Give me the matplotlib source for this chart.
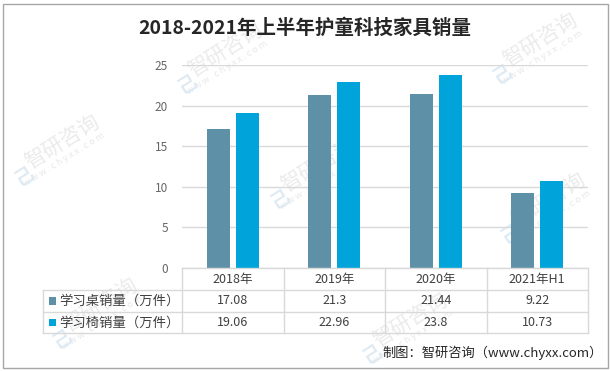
import numpy as np
import matplotlib
matplotlib.use("Agg")
import matplotlib.pyplot as plt
import matplotlib.transforms as mtransforms
from matplotlib.patches import Rectangle

plt.rcParams['font.family'] = ['Noto Sans CJK SC', 'DejaVu Sans']

# ---------------- data ----------------
title = "2018-2021年上半年护童科技家具销量"
categories = ["2018年", "2019年", "2020年", "2021年H1"]
series_names = ["学习桌销量（万件）", "学习椅销量（万件）"]
desk_sales = [17.08, 21.3, 21.44, 9.22]
chair_sales = [19.06, 22.96, 23.8, 10.73]
yticks = [0, 5, 10, 15, 20, 25]
footer = "制图：智研咨询（www.chyxx.com）"
wm_text = "智研咨询"
wm_sub = "w w w . c h y x x . c o m"

# ---------------- style ----------------
W, H = 610, 371
c_desk = "#5E91A7"
c_chair = "#00A4DB"
grid_c = "#D9D9D9"
txt_c = "#404040"

fig = plt.figure(figsize=(W / 100, H / 100), dpi=100)
fig.patch.set_facecolor("white")

# background layer (watermarks)
bg = fig.add_axes([0, 0, 1, 1], zorder=0)
bg.set_xlim(0, W)
bg.set_ylim(H, 0)
bg.axis("off")

theta = 32
th = np.deg2rad(theta)
wm_pos = [(225, 50), (62, 142), (540, 40), (318, 165), (548, 200), (100, 305), (410, 320)]
for (cx, cy) in wm_pos:
    bg.text(cx, cy, wm_text, rotation=theta, rotation_mode="anchor",
            ha="center", va="center", fontsize=15, color="#EBEBEB")
    ox, oy = 16 * np.sin(th), 16 * np.cos(th)
    bg.text(cx + ox - 6, cy + oy + 4, wm_sub, rotation=theta, rotation_mode="anchor",
            ha="center", va="center", fontsize=6.5, color="#E8E8E8")
    lx, ly = cx - 52 * np.cos(th) + 6, cy + 52 * np.sin(th) + 6
    bg.text(lx, ly, "己", rotation=theta, rotation_mode="anchor",
            ha="center", va="center", fontsize=13, color="#DDEAF4", fontweight="bold")

# main chart axes
x0, x1, y_bot, y_top = 182, 588, 268, 65
ax = fig.add_axes([x0 / W, (H - y_bot) / H, (x1 - x0) / W, (y_bot - y_top) / H], zorder=1)
ax.patch.set_alpha(0)
x = np.arange(len(categories))
bw = 0.227
off = 0.142
ax.bar(x - off, desk_sales, bw, color=c_desk, zorder=3)
ax.bar(x + off, chair_sales, bw, color=c_chair, zorder=3)
ax.set_xlim(-0.5, len(categories) - 0.5)
ax.set_ylim(yticks[0], yticks[-1])
ax.set_yticks(yticks)
ax.set_xticks([])
ax.yaxis.grid(True, color=grid_c, lw=1)
ax.set_axisbelow(True)
for s in ax.spines.values():
    s.set_visible(False)
ax.tick_params(axis="y", length=0, pad=10, labelsize=8.5, labelcolor="#666666")

# overlay layer (table, title, footer, border)
ov = fig.add_axes([0, 0, 1, 1], zorder=2)
ov.patch.set_alpha(0)
ov.set_xlim(0, W)
ov.set_ylim(H, 0)
ov.axis("off")

tr = mtransforms.blended_transform_factory(ax.transData, ov.transData)
row_y = [268, 290, 312, 333]
tab_left = 43
lw = 1

# horizontal lines
ov.plot([-0.5, len(categories) - 0.5], [row_y[0], row_y[0]], color=grid_c, lw=lw, transform=tr)
for yy in row_y[1:]:
    ov.plot([tab_left, x1], [yy, yy], color=grid_c, lw=lw)
# vertical lines
for i in range(len(categories) + 1):
    ov.plot([i - 0.5, i - 0.5], [row_y[0], row_y[-1]], color=grid_c, lw=lw, transform=tr)
ov.plot([tab_left, tab_left], [row_y[1], row_y[-1]], color=grid_c, lw=lw)

# header labels
for i, c in enumerate(categories):
    ov.text(i, (row_y[0] + row_y[1]) / 2, c, transform=tr, ha="center", va="center",
            fontsize=9, color=txt_c)

# data rows
for r, (name, vals, col) in enumerate([(series_names[0], desk_sales, c_desk),
                                        (series_names[1], chair_sales, c_chair)]):
    yc = (row_y[r + 1] + row_y[r + 2]) / 2
    ov.add_patch(Rectangle((48.5, yc - 3.8), 7.5, 7.5, color=col, lw=0))
    ov.text(59, yc, name, ha="left", va="center", fontsize=9.6, color=txt_c)
    for i, v in enumerate(vals):
        ov.text(i, yc, str(v), transform=tr, ha="center", va="center",
                fontsize=9, color=txt_c)

# title
ov.text(W / 2, 28, title, ha="center", va="center", fontsize=14,
        fontweight="bold", color="#262626")

# footer
ov.text(603, 353, footer, ha="right", va="center", fontsize=9.5, color="#262626")

# border
ov.add_patch(Rectangle((3, 4), 605, 364, fill=False, ec="#A6A6A6", lw=1))

fig.savefig("out.png", dpi=100)
